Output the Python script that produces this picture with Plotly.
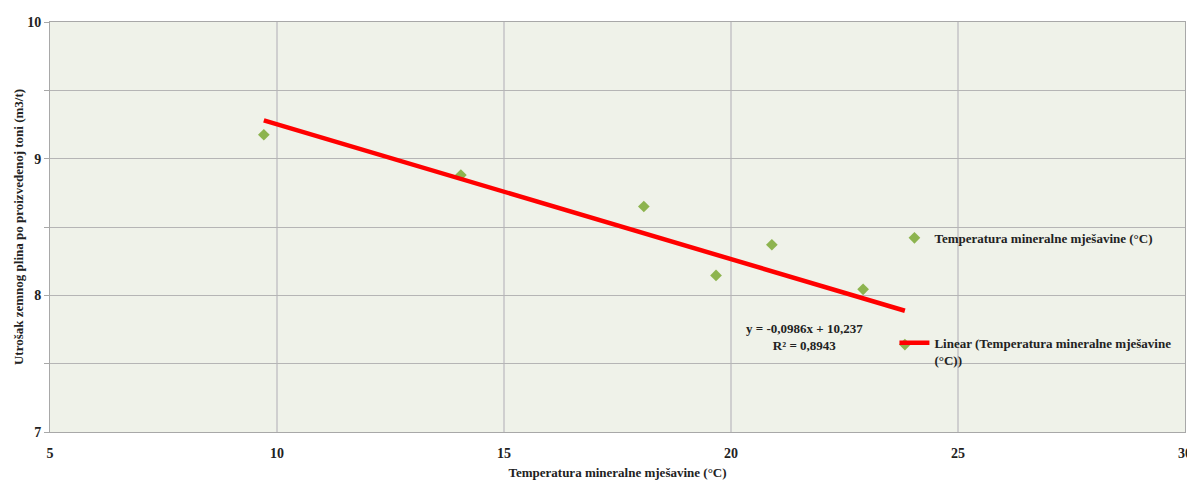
import plotly.graph_objects as go

# Data
temp_x = [9.71, 14.05, 18.08, 19.67, 20.9, 22.91, 23.83]
gas_y = [9.175, 8.88, 8.65, 8.146, 8.37, 8.044, 7.64]

slope = -0.0986
intercept = 10.237
r2_text = "0,8943"

x_ticks = [5, 10, 15, 20, 25, 30]
y_tickvals = [7, 7.5, 8, 8.5, 9, 9.5, 10]
y_ticktext = ["7", "", "8", "", "9", "", "10"]

series_name = "Temperatura mineralne mješavine (°C)"
trend_name = "Linear (Temperatura mineralne mješavine<br>(°C))"

trend_x = [min(temp_x), max(temp_x)]
trend_y = [slope * v + intercept for v in trend_x]

font_family = "Liberation Serif"

fig = go.Figure()
fig.add_trace(go.Scatter(
    x=temp_x, y=gas_y, mode="markers", name=series_name,
    marker=dict(symbol="diamond", size=9, color="#8db44f"),
    legendgroup="a",
))
fig.add_trace(go.Scatter(
    x=trend_x, y=trend_y, mode="lines", name=trend_name,
    line=dict(color="#ff0000", width=4.5),
    legendgroup="b",
))

fig.add_annotation(
    x=21.61, y=7.693, xref="x", yref="y",
    text="y = -0,0986x + 10,237<br>R² = " + r2_text,
    showarrow=False, align="center",
    font=dict(family=font_family, size=13, color="#222222", weight="bold"),
)

fig.update_layout(
    width=1187, height=480,
    margin=dict(l=50, r=2, t=22, b=48),
    paper_bgcolor="white",
    plot_bgcolor="#eff2e9",
    font=dict(family=font_family, size=13, color="#222222"),
    showlegend=True,
    legend=dict(
        x=0.744, y=0.51, xanchor="left", yanchor="top",
        bgcolor="rgba(0,0,0,0)",
        font=dict(family=font_family, size=13, color="#222222", weight="bold"),
        traceorder="grouped", tracegroupgap=85, valign="top",
        itemwidth=30,
    ),
    xaxis=dict(
        range=[5, 30], tickvals=x_ticks, ticks="",
        showgrid=True, gridcolor="#cfcfcf", gridwidth=2,
        showline=True, linecolor="#a8a8a8", linewidth=1, mirror=True,
        zeroline=False, automargin=False,
        ticklabeloverflow="allow",
        tickfont=dict(family=font_family, size=14, color="#222222", weight="bold"),
        ticklabelstandoff=8,
        title=dict(text="Temperatura mineralne mješavine (°C)",
                   font=dict(family=font_family, size=13, color="#222222", weight="bold"),
                   standoff=9),
    ),
    yaxis=dict(
        range=[7, 10], tickvals=y_tickvals, ticktext=y_ticktext,
        ticks="outside", ticklen=5, tickcolor="#a8a8a8",
        showgrid=True, gridcolor="#b5b5b5", gridwidth=1,
        showline=True, linecolor="#a8a8a8", linewidth=1, mirror=True,
        zeroline=False, automargin=False,
        ticklabeloverflow="allow",
        tickfont=dict(family=font_family, size=14, color="#222222", weight="bold"),
        title=dict(text="Utrošak zemnog plina po proizvedenoj toni (m3/t)",
                   font=dict(family=font_family, size=13, color="#222222", weight="bold"),
                   standoff=0),
    ),
)

fig.write_html("out.html", config={"displayModeBar": False},
               post_script="document.body.style.margin='0';")
